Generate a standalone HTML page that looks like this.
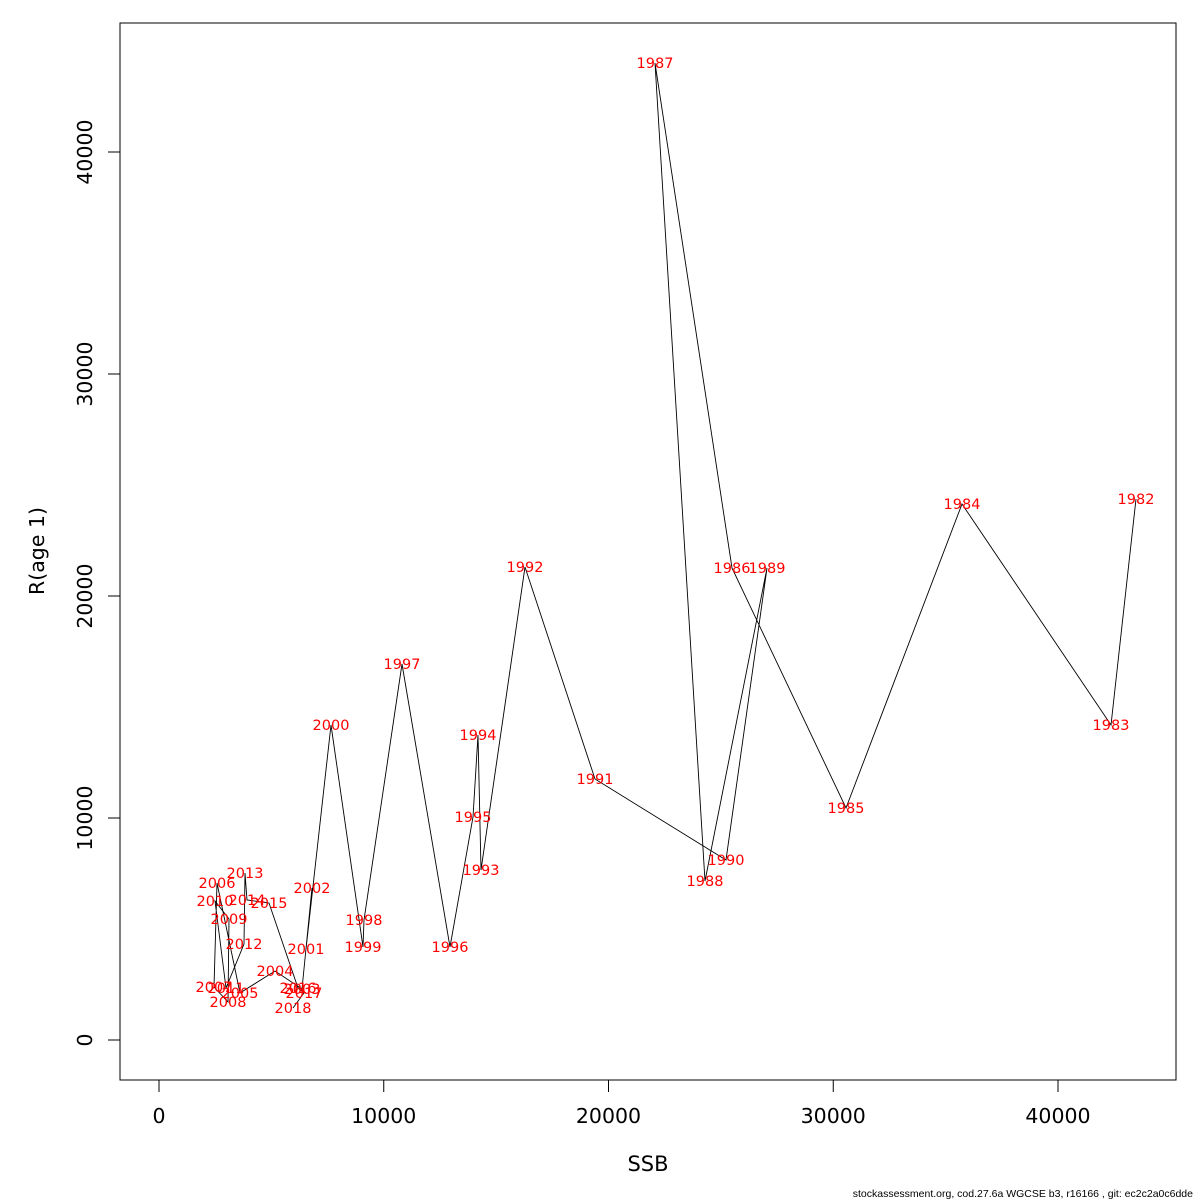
<!DOCTYPE html>
<html><head><meta charset="utf-8"><style>
body{margin:0;background:#fff}
svg{display:block;font-family:"DejaVu Sans","Liberation Sans",sans-serif}
</style></head><body>
<svg id="chart" width="1200" height="1200" viewBox="0 0 1200 1200" xmlns="http://www.w3.org/2000/svg">
<rect x="0" y="0" width="1200" height="1200" fill="#fff"/>
<rect x="120" y="23" width="1056" height="1057" fill="none" stroke="#000" stroke-width="1"/>
<g id="axes"></g>
<g id="marks"></g>
<text x="648" y="1171" font-size="21" text-anchor="middle">SSB</text>
<text transform="translate(44,551) rotate(-90)" font-size="20.5" text-anchor="middle">R(age 1)</text>
<text x="1193" y="1197" font-size="10.5" font-family="Liberation Sans, sans-serif" text-anchor="end">stockassessment.org, cod.27.6a  WGCSE  b3, r16166 , git: ec2c2a0c6dde</text>
</svg>
<script>
const years = [1982,1983,1984,1985,1986,1987,1988,1989,1990,1991,1992,1993,1994,1995,1996,1997,1998,1999,2000,2001,2002,2003,2004,2005,2006,2007,2008,2009,2010,2011,2012,2013,2014,2015,2016,2017,2018];
const ssb = [43470,42358,35729,30567,25495,22069,24294,27052,25228,19399,16285,14327,14194,13971,12948,10812,9121,9077,7653,6541,6808,6363,5161,3604,2581,2447,3070,3115,2492,2981,3782,3826,3915,4894,6185,6452,5962];
const recruits = [24370,14190,24144,10450,21261,44009,7162,21261,8108,11757,21306,7658,13739,10045,4189,16937,5405,4189,14189,4099,6847,2297,3108,2117,7072,2387,1712,5450,6261,2342,4324,7523,6306,6171,2342,2117,1441];
const xTicks = [0,10000,20000,30000,40000];
const yTicks = [0,10000,20000,30000,40000];

const NS = "http://www.w3.org/2000/svg";
function sx(v){ return 159 + v*0.022475; }
function sy(v){ return 1040 - v*0.0222; }
const axes = document.getElementById('axes');
const marks = document.getElementById('marks');
function mk(tag, attrs, parent){ const e=document.createElementNS(NS,tag); for(const k in attrs) e.setAttribute(k,attrs[k]); parent.appendChild(e); return e; }

const xl = mk('line',{x1:sx(xTicks[0]),x2:sx(xTicks[xTicks.length-1]),y1:1080,y2:1080,stroke:'#000'},axes);


xTicks.forEach(t=>{
  const l = mk('line',{x1:sx(t),x2:sx(t),y1:1080,y2:1092,stroke:'#000'},axes);
  
  
  const tx = mk('text',{x:sx(t),y:1123,'font-size':20.5,'text-anchor':'middle'},axes);
  tx.textContent = t;
  
  
});
const yl = mk('line',{x1:120,x2:120,y1:sy(yTicks[0]),y2:sy(yTicks[yTicks.length-1]),stroke:'#000'},axes);


yTicks.forEach(t=>{
  const l = mk('line',{x1:108,x2:120,y1:sy(t),y2:sy(t),stroke:'#000'},axes);
  
  
  const tx = mk('text',{transform:`translate(92,${sy(t)}) rotate(-90)`,'font-size':20.5,'text-anchor':'middle'},axes);
  tx.textContent = t;
  
  
});

const pts = ssb.map((v,i)=>`${sx(v).toFixed(1)},${sy(recruits[i]).toFixed(1)}`).join(' ');
const pl = mk('polyline',{points:pts,fill:'none',stroke:'#000','stroke-width':0.9},marks);


years.forEach((yr,i)=>{
  const t = mk('text',{x:sx(ssb[i]),y:sy(recruits[i])+5,'font-size':14.5,'text-anchor':'middle',fill:'#ff0000'},marks);
  t.textContent = yr;
  
  
});
</script>
</body></html>
